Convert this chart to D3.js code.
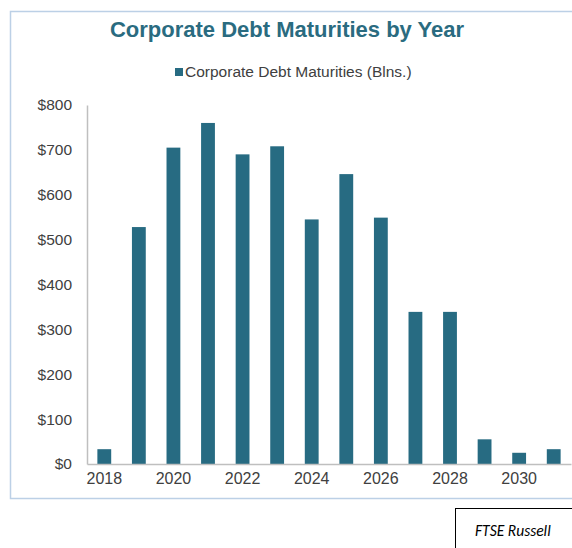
<!DOCTYPE html>
<html>
<head>
<meta charset="utf-8">
<script src="https://cdn.jsdelivr.net/npm/d3@7"></script>
<style>
  body { margin: 0; background: #fff; overflow: hidden; }
  svg { display: block; font-family: Arial, 'Liberation Sans', sans-serif; }
  .title { font-size: 22px; font-weight: bold; fill: #2a6b80; text-anchor: middle; }
  .legend-text { font-size: 15.5px; fill: #404040; }
  .tick text { fill: #404040; }
</style>
</head>
<body>
<svg id="chart" width="572" height="548"></svg>
<script>
const years = [2018, 2019, 2020, 2021, 2022, 2023, 2024, 2025, 2026, 2027, 2028, 2029, 2030, 2031]
const maturities = [33, 528, 705, 760, 690, 708, 545, 646, 549, 339, 339, 55, 25, 33]
const yTicks = [0, 100, 200, 300, 400, 500, 600, 700, 800]
const xTickYears = [2018, 2020, 2022, 2024, 2026, 2028, 2030]

const title = 'Corporate Debt Maturities by Year'
const legendLabel = 'Corporate Debt Maturities (Blns.)'
const source = 'FTSE Russell'

const data = years.map((year, i) => ({ year, value: maturities[i] }))

const svg = d3.select('#chart')
const barColor = '#276b82'

// outer frame, runs off the right edge like the screenshot
svg.append('rect').
  attr('x', 10.5).
  attr('y', 11.5).
  attr('width', 580).
  attr('height', 487).
  attr('fill', 'none').
  attr('stroke', '#bcd0e6').
  attr('stroke-width', 1.5)

const margin = { top: 105, right: 1, bottom: 84, left: 87 }
const innerWidth = 572 - margin.left - margin.right
const innerHeight = 548 - margin.top - margin.bottom

const g = svg.append('g').
  attr('transform', `translate(${margin.left}, ${margin.top})`)

const xScale = d3.scaleBand().
  domain(years).
  range([0, innerWidth]).
  paddingInner(0.6).
  paddingOuter(0.3)

const yScale = d3.scaleLinear().
  domain([0, 800]).
  range([innerHeight, 0])

const yAxis = d3.axisLeft(yScale).
  tickValues(yTicks).
  tickSize(0).
  tickPadding(15).
  tickFormat(d => `$${d}`)

const yAxisG = g.append('g').call(yAxis)
yAxisG.select('.domain').attr('stroke', '#bfbfbf').attr('stroke-width', 1.5)
yAxisG.selectAll('.tick text').
  attr('font-size', 15.5).
  attr('font-family', 'Arial, Liberation Sans, sans-serif')

g.selectAll('.bar').
  data(data).
  enter().
  append('rect').
  attr('class', 'bar').
  attr('x', d => xScale(d.year)).
  attr('width', xScale.bandwidth()).
  attr('y', d => yScale(d.value)).
  attr('height', d => innerHeight - yScale(d.value)).
  attr('fill', barColor)

const xAxis = d3.axisBottom(xScale).
  tickValues(xTickYears).
  tickSize(0).
  tickPadding(9)

const xAxisG = g.append('g').
  attr('transform', `translate(0, ${innerHeight})`).
  call(xAxis)
xAxisG.select('.domain').attr('stroke', '#bfbfbf').attr('stroke-width', 1.5)
xAxisG.selectAll('.tick text').
  attr('font-size', 16).
  attr('font-family', 'Arial, Liberation Sans, sans-serif')

svg.append('text').
  attr('class', 'title').
  attr('x', 287).
  attr('y', 37).
  text(title)

// legend
const legendG = svg.append('g').attr('transform', 'translate(175, 71)')
legendG.append('rect').
  attr('x', 0).
  attr('y', -3).
  attr('width', 8).
  attr('height', 8).
  attr('fill', barColor)
legendG.append('text').
  attr('class', 'legend-text').
  attr('x', 10).
  attr('y', 6).
  text(legendLabel)

// source box
svg.append('rect').
  attr('x', 455.5).
  attr('y', 508.5).
  attr('width', 130).
  attr('height', 50).
  attr('fill', 'none').
  attr('stroke', '#000').
  attr('stroke-width', 1)
svg.append('text').
  attr('x', 475).
  attr('y', 536).
  attr('font-size', 15.5).
  attr('font-style', 'italic').
  attr('font-family', 'Carlito, Calibri, Liberation Sans, sans-serif').
  attr('fill', '#000').
  text(source)
</script>
</body>
</html>
